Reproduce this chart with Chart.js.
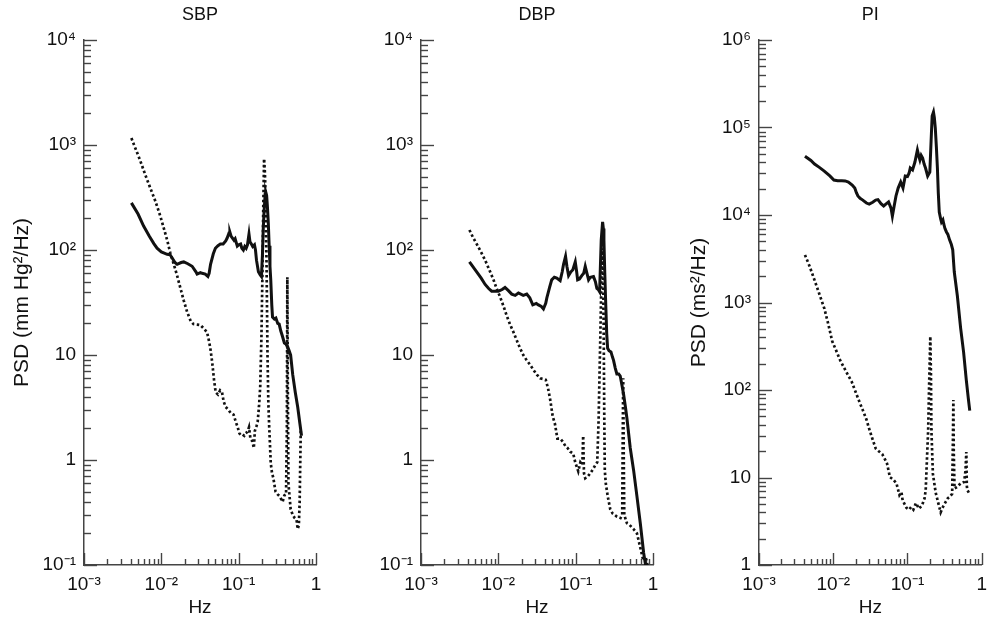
<!DOCTYPE html>
<html><head><meta charset="utf-8">
<script src="https://cdn.jsdelivr.net/npm/chart.js@4.4.1/dist/chart.umd.min.js"></script>
<style>
html,body{margin:0;padding:0;background:#fff;width:995px;height:628px;overflow:hidden}
.box{position:absolute;top:0;height:628px}
</style></head><body>
<div class="box" style="left:0;width:332px"><canvas id="c1"></canvas></div>
<div class="box" style="left:337px;width:332px"><canvas id="c2"></canvas></div>
<div class="box" style="left:675px;width:320px"><canvas id="c3"></canvas></div>
<script>
// ---- tick labels ----
const hzTickValues = [0.001, 0.01, 0.1, 1];
const hzTickLabels = ['10⁻³', '10⁻²', '10⁻¹', '1'];
const bpTickValues = [0.1, 1, 10, 100, 1000, 10000];
const bpTickLabels = ['10⁻¹', '1', '10', '10²', '10³', '10⁴'];
const piTickValues = [1, 10, 100, 1000, 10000, 100000, 1000000];
const piTickLabels = ['1', '10', '10²', '10³', '10⁴', '10⁵', '10⁶'];

// ---- SBP ----
const sbpSolidHz = [0.0041,0.005,0.0059,0.007,0.008,0.0088,0.01,0.0119,0.013,0.0138,0.015,0.016,0.018,0.0195,0.022,0.025,0.028,0.029,0.032,0.0337,0.037,0.04,0.0415,0.0433,0.047,0.05,0.054,0.058,0.063,0.068,0.071,0.075,0.077,0.08,0.087,0.09,0.096,0.1,0.106,0.11,0.115,0.12,0.125,0.13,0.136,0.14,0.146,0.152,0.16,0.165,0.17,0.18,0.19,0.197,0.203,0.208,0.213,0.22,0.224,0.23,0.236,0.242,0.248,0.254,0.26,0.268,0.274,0.29,0.303,0.32,0.334,0.35,0.369,0.39,0.408,0.43,0.45,0.47,0.5,0.54,0.58,0.62,0.65];
const sbpSolidPsd = [281,220,169,135,115,104,96,91,90,84,76,73,76,77,74,70,62,59,61,60,59,56,60,73,92,104,110,114,114,122,130,145,148,135,124,128,109,112,114,104,100,108,104,112,142,120,114,108,112,100,80,62,58,56,90,160,230,340,356,330,250,177,110,70,52,30,23,22,22.5,20,19.7,17,15,13,12.7,12,11,10,6.5,4.4,3.2,2.2,1.7];
const sbpDottedHz = [0.0041,0.0047,0.0053,0.0062,0.0072,0.0084,0.0097,0.0108,0.0119,0.013,0.0145,0.016,0.0177,0.0195,0.0216,0.024,0.026,0.029,0.032,0.035,0.039,0.041,0.043,0.0455,0.048,0.0505,0.054,0.0575,0.061,0.064,0.068,0.074,0.079,0.086,0.092,0.097,0.102,0.106,0.112,0.118,0.123,0.13,0.136,0.142,0.151,0.157,0.162,0.17,0.176,0.183,0.19,0.197,0.203,0.208,0.213,0.218,0.224,0.23,0.236,0.242,0.248,0.254,0.26,0.27,0.28,0.3,0.32,0.34,0.37,0.39,0.41,0.42,0.426,0.432,0.44,0.47,0.5,0.53,0.56,0.58,0.6,0.615,0.625,0.635];
const sbpDottedPsd = [1164,900,719,520,389,290,210,160,124,95,73,57,43,33,25.6,21,19.7,19.5,19.3,18,16.5,14,11.6,8.5,5.8,4.4,4.2,4.6,4.4,3.6,3.2,3.0,2.8,2.7,2.3,2.06,1.8,1.73,1.75,1.7,1.8,1.85,2.05,1.6,1.5,1.3,1.9,2.1,2.3,3.2,5,15,60,250,740,560,300,60,10,3.5,2.1,1.4,0.93,0.75,0.68,0.5,0.47,0.45,0.4,0.46,0.47,2,55,5,0.6,0.34,0.3,0.28,0.27,0.22,0.24,0.4,0.9,1.9];

// ---- DBP ----
const dbpSolidHz = [0.00423,0.005,0.006,0.00675,0.0075,0.0082,0.01,0.0112,0.0122,0.0135,0.0149,0.0165,0.0182,0.021,0.0233,0.0255,0.0279,0.031,0.033,0.036,0.0383,0.041,0.0424,0.046,0.049,0.053,0.057,0.063,0.067,0.0697,0.074,0.077,0.081,0.0868,0.092,0.0988,0.103,0.106,0.112,0.12,0.127,0.133,0.14,0.147,0.155,0.17,0.18,0.188,0.196,0.204,0.21,0.214,0.223,0.228,0.232,0.238,0.244,0.252,0.259,0.27,0.286,0.3,0.309,0.325,0.341,0.36,0.377,0.4,0.417,0.44,0.46,0.508,0.561,0.62,0.685,0.757,0.82];
const dbpSolidPsd = [77,65,54,47,43,40.5,40.5,42,44,41,38,37,39,37,38,35,30,31,30,29,27.5,31,35,44,52,55,54,51,62,73,87,70,57,62,65,77,62,52,53,57,60,70,60,52,55,56,50,43,42,40,80,124,185,160,124,60,33,16,11.6,11,10.7,9.5,8.9,7.5,6.6,6.6,6.3,5,4.2,3.2,2.5,1.3,0.8,0.45,0.25,0.13,0.09];
const dbpDottedHz = [0.00423,0.0047,0.00526,0.006,0.00675,0.0077,0.00866,0.0095,0.0105,0.0117,0.0129,0.0142,0.0157,0.0173,0.0191,0.021,0.0233,0.026,0.0285,0.0315,0.0348,0.0385,0.041,0.044,0.047,0.0505,0.054,0.058,0.063,0.068,0.074,0.0785,0.085,0.093,0.0988,0.104,0.108,0.115,0.122,0.125,0.128,0.133,0.144,0.155,0.168,0.18,0.19,0.198,0.203,0.208,0.215,0.22,0.225,0.23,0.234,0.238,0.245,0.26,0.28,0.3,0.34,0.38,0.4,0.406,0.412,0.418,0.425,0.46,0.5,0.56,0.62,0.68,0.75,0.8,0.85];
const dbpDottedPsd = [155,132,114,95,80,64,52,43,36,29,23.4,19.5,16.5,13.8,11.6,10,8.9,8,7.2,6.5,6.0,5.9,5.8,4.8,3.7,2.6,2.2,1.6,1.6,1.5,1.35,1.3,1.2,1.15,0.95,0.85,0.78,0.95,0.9,1.7,0.75,0.67,0.7,0.75,0.82,0.9,0.95,2.4,6,14,52,104,80,20,3,0.8,0.6,0.45,0.34,0.31,0.29,0.28,0.3,1.5,6,1.2,0.3,0.25,0.24,0.22,0.2,0.15,0.11,0.12,0.1];

// ---- PI ----
const piSolidHz = [0.00416,0.005,0.0056,0.0065,0.00757,0.009,0.0102,0.0115,0.0131,0.0145,0.016,0.018,0.0195,0.0205,0.0215,0.023,0.025,0.028,0.0305,0.034,0.0373,0.04,0.044,0.0478,0.052,0.0556,0.06,0.0626,0.066,0.07,0.0749,0.081,0.087,0.0933,0.1,0.105,0.109,0.117,0.126,0.136,0.142,0.147,0.153,0.16,0.168,0.175,0.187,0.2,0.208,0.215,0.224,0.23,0.237,0.245,0.253,0.26,0.268,0.28,0.287,0.3,0.308,0.32,0.335,0.35,0.369,0.39,0.407,0.427,0.47,0.52,0.57,0.62,0.66,0.69];
const piSolidPsd = [47000,42000,38300,35000,31700,28000,25100,24700,24600,24500,23800,22000,20300,18000,16500,15500,14800,13700,13300,14000,14800,15000,13500,12700,13500,14100,12000,9700,12500,16500,20300,23800,20300,27900,27500,30000,34400,32700,40300,55300,47000,42500,48000,44800,38000,34400,27900,31000,70000,135000,150000,130000,98600,60000,34400,18000,10800,9000,8300,8800,7900,7000,6400,6000,5200,4600,4000,2230,1186,510,271,130,80,58];
const piDottedHz = [0.00416,0.0048,0.0056,0.0065,0.0076,0.0086,0.0097,0.011,0.0125,0.0145,0.016,0.0177,0.0205,0.023,0.0252,0.028,0.0302,0.034,0.0373,0.041,0.0457,0.05,0.053,0.058,0.064,0.071,0.078,0.083,0.086,0.097,0.105,0.112,0.12,0.13,0.143,0.157,0.17,0.176,0.181,0.19,0.196,0.203,0.207,0.21,0.22,0.24,0.26,0.28,0.3,0.32,0.35,0.37,0.4,0.41,0.415,0.42,0.43,0.47,0.52,0.58,0.605,0.62,0.63,0.64,0.67];
const piDottedPsd = [3500,2600,1800,1250,850,560,360,280,215,170,145,125,90,70,58,46,37,27,21.5,20,18.5,16,14.5,10.1,9.5,8.6,6.3,6.8,5.5,4.5,4.3,4.6,4.3,5.1,4.4,4.8,5.8,7.2,13,35,120,410,150,35,11,6.7,5.1,4.0,4.6,5.1,5.8,6.0,6.5,30,77,20,7.5,7.8,8.6,8.9,12,19.5,8,7.2,6.7];

// ---- helpers ----
const FONT = '"Liberation Sans", Arial, Helvetica, sans-serif';
const AXIS = '#444';
const INK = '#111';
Chart.defaults.font.family = FONT;
Chart.defaults.font.size = 18;
Chart.defaults.color = INK;

function isDecade(v){ const l = Math.log10(v); return Math.abs(l - Math.round(l)) < 1e-6; }
function allTicks(majors){
  const out = [];
  for (let i = 0; i < majors.length; i++) {
    out.push(majors[i]);
    if (i < majors.length - 1) for (let m = 2; m <= 9; m++) out.push(majors[i] * m);
  }
  return out;
}
function labelFor(values, labels, v){
  const i = values.findIndex(t => Math.abs(t - v) / t < 1e-6);
  return i >= 0 ? labels[i] : '';
}
function pairs(xs, ys){ return xs.map((x, i) => ({x: x, y: ys[i]})); }

const inwardTicks = {
  id: 'inwardTicks',
  beforeDatasetsDraw(chart){
    const ctx = chart.ctx, a = chart.chartArea;
    const xs = chart.scales.x, ys = chart.scales.y;
    ctx.save();
    ctx.strokeStyle = AXIS;
    ctx.lineWidth = 1.4;
    xs.ticks.forEach(t => {
      const px = Math.round(xs.getPixelForValue(t.value)) + 0.5;
      const len = isDecade(t.value) ? 12 : 6;
      ctx.beginPath(); ctx.moveTo(px, a.bottom); ctx.lineTo(px, a.bottom - len); ctx.stroke();
    });
    ys.ticks.forEach(t => {
      const py = Math.round(ys.getPixelForValue(t.value)) + 0.5;
      const len = isDecade(t.value) ? 13 : 7;
      ctx.beginPath(); ctx.moveTo(a.left, py); ctx.lineTo(a.left + len, py); ctx.stroke();
    });
    ctx.restore();
  }
};

function makeChart(id, o){
  new Chart(document.getElementById(id), {
    type: 'line',
    data: { datasets: [
      { data: pairs(o.solidHz, o.solidPsd), borderColor: INK, borderWidth: 3, pointRadius: 0, tension: 0, fill: false },
      { data: pairs(o.dotHz, o.dotPsd), borderColor: INK, borderWidth: 2.7, borderDash: [2.5, 2.5], pointRadius: 0, tension: 0, fill: false }
    ]},
    options: {
      responsive: true, maintainAspectRatio: false, animation: false, events: [],
      layout: { autoPadding: false, padding: { left: 0, right: o.rightPad, top: 0, bottom: 0 } },
      plugins: {
        legend: { display: false }, tooltip: { enabled: false },
        title: { display: true, text: o.title, fullSize: false, color: INK,
                 font: { size: 18, weight: 'normal' }, padding: { top: 4, bottom: 14.4 } }
      },
      scales: {
        x: {
          type: 'logarithmic', position: 'bottom', min: 0.001, max: 1,
          grid: { display: false, drawTicks: false },
          border: { display: true, color: AXIS, width: 1.5 },
          afterBuildTicks: s => { s.ticks = allTicks(hzTickValues).map(v => ({value: v})); },
          afterFit: s => { s.height = 63; },
          ticks: { autoSkip: false, maxRotation: 0, padding: 8, color: INK, font: { size: 19 },
                   callback: v => labelFor(hzTickValues, hzTickLabels, v) },
          title: { display: true, text: 'Hz', color: INK, font: { size: 19 }, padding: { top: 0, bottom: 9 } }
        },
        y: {
          type: 'logarithmic', position: 'left', min: o.yValues[0], max: o.yValues[o.yValues.length - 1],
          grid: { display: false, drawTicks: false },
          border: { display: true, color: AXIS, width: 1.5 },
          afterBuildTicks: s => { s.ticks = allTicks(o.yValues).map(v => ({value: v})); },
          afterFit: s => { s.width = 84; },
          ticks: { autoSkip: false, padding: 8, color: INK, font: { size: 19 },
                   callback: v => labelFor(o.yValues, o.yLabels, v) },
          title: { display: !!o.yTitle, text: o.yTitle || '', color: INK, font: { size: 21 },
                   padding: { top: o.yTitlePad || 10, bottom: 0 } }
        }
      }
    },
    plugins: [inwardTicks]
  });
}

makeChart('c1', { title: 'SBP', yTitle: 'PSD (mm Hg²/Hz)', yTitlePad: 10, yValues: bpTickValues, yLabels: bpTickLabels, rightPad: 16,
  solidHz: sbpSolidHz, solidPsd: sbpSolidPsd, dotHz: sbpDottedHz, dotPsd: sbpDottedPsd });
makeChart('c2', { title: 'DBP', yTitle: '', yValues: bpTickValues, yLabels: bpTickLabels, rightPad: 16,
  solidHz: dbpSolidHz, solidPsd: dbpSolidPsd, dotHz: dbpDottedHz, dotPsd: dbpDottedPsd });
makeChart('c3', { title: 'PI', yTitle: 'PSD (ms²/Hz)', yTitlePad: 12, yValues: piTickValues, yLabels: piTickLabels, rightPad: 5,
  solidHz: piSolidHz, solidPsd: piSolidPsd, dotHz: piDottedHz, dotPsd: piDottedPsd });
</script>
</body></html>
